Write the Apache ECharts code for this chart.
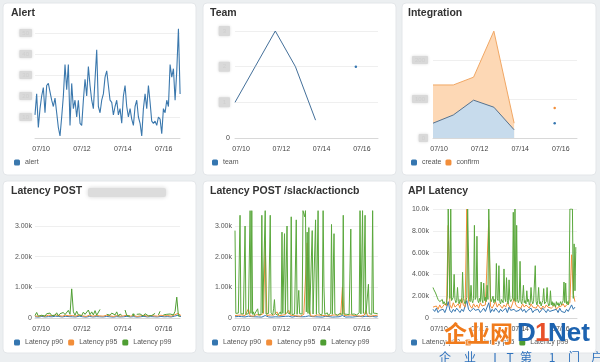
<!DOCTYPE html>
<html><head><meta charset="utf-8">
<script src="https://cdn.jsdelivr.net/npm/echarts@6/dist/echarts.min.js"></script>
<style>html,body{margin:0;padding:0;background:#eceff1}#c{width:600px;height:362px}</style>
</head><body><div id="c"></div>
<script>
// ---------- data ----------
const dayTicks = [10, 12, 14, 16];           // July days labelled on x axes
const rangeStart = 9.7, rangeEnd = 16.8;     // visible time range (July day)

const titles = ['Alert', 'Team', 'Integration', 'Latency POST', 'Latency POST /slack/actioncb', 'API Latency'];

// Alert (samples every ~1.96 h)
const alertValues = [11,21,5,14,20,24,12,25,26,22,18,15,19,12,5,1,10,20,35,23,35,6,26,14,18,10,18,7,6,18,
  28,20,34,25,18,14,28,42,15,12,18,21,29,32,25,18,17,11,15,18,11,14,7,20,25,15,10,14,9,6,
  15,18,10,7,1,14,21,14,25,17,8,7,8,6,10,9,2,14,12,18,15,35,29,33,18,32,52,21];

// Team / Integration (daily)
const teamValues = [1, 2, 3, 2, 0.5, null, 2];
const createValues = [38, 59, 97, 79, 21, null, 38];
const confirmValues = [98, 77, 59, 195, 17, null, 39];

// Latency POST (p99 every ~1.96 h, p90/p95 every 4 h)
const postP99 = [80,180,60,120,90,150,60,140,100,160,
  80,130,90,170,70,140,100,180,110,80,
  250,120,950,200,90,220,100,160,80,190,
  120,90,260,110,200,100,240,90,150,280,
  null,null,null,120,180,90,160,120,100,200,
  60,130,90,null,260,80,120,60,null,110,
  null,120,100,130,100,60,140,90,70,130,
  80,60,150,null,100,220,null,100,70,120,
  90,130,80,100,220,680,60,60];
const postP95 = [70,50,80,60,90,70,100,80,60,90,70,80,60,100,70,50,90,60,80,70,60,90,70,50,80,60,70,90,60,80,50,70,90,60,80,70,60,90,70,80,60,100,150,70];
const postP90 = [40,30,50,35,45,40,60,50,35,55,45,40,35,60,40,30,50,35,45,40,35,50,40,30,45,35,40,55,35,45,30,40,55,35,45,40,35,50,40,45,35,60,90,40];

// Latency POST /slack/actioncb (p99 hourly, p90/p95 every 2 h)
const slackP99 = [2850,150,120,90,160,110,3350,140,100,170,
  130,90,3000,120,160,100,140,90,3500,150,
  3500,120,200,90,160,110,130,300,100,150,
  90,120,3350,160,110,140,3500,130,100,120,
  150,90,3350,170,120,100,300,600,140,110,
  160,90,130,100,200,120,2800,150,110,2750,
  130,90,3000,160,120,100,140,3300,110,150,
  90,130,170,3200,120,100,900,140,110,160,
  130,3500,3500,3300,3500,200,2800,150,2950,120,
  100,160,2850,130,110,170,3200,120,90,3500,
  150,110,130,90,160,3500,1000,120,140,100,
  170,90,130,110,150,3050,120,100,2750,140,
  110,160,90,130,120,150,100,170,110,3350,
  130,90,160,120,100,140,110,150,2900,120,
  90,160,130,110,150,100,140,120,170,3500,
  130,110,3500,150,100,3350,120,160,90,1100,
  140,110,150,120,3500,160,100,130,150,120,
  140];
const slackP95 = [80,60,90,70,100,60,80,120,300,70,
  90,60,80,110,70,90,60,150,2500,80,
  70,100,60,90,80,200,70,60,90,80,
  110,70,250,90,60,80,100,70,90,60,
  80,120,90,2450,400,70,90,60,80,100,
  70,90,60,80,110,70,90,80,60,100,
  70,90,80,110,1000,80,60,90,70,100,
  60,80,90,70,110,60,80,90,250,70,
  90,60,100,80,70,90];
const slackP90 = [40,35,50,30,45,40,35,55,60,40,
  45,30,40,50,35,45,30,60,80,40,
  35,50,30,45,40,70,35,30,45,40,
  55,35,60,45,30,40,50,35,45,30,
  40,60,45,90,70,35,45,30,40,50,
  35,45,30,40,55,35,45,40,30,50,
  35,45,40,55,80,40,30,45,35,50,
  30,40,45,35,55,30,40,45,60,35,
  45,30,50,40,35,45];

// API Latency (p99 hourly, p90/p95 every 2 h)
const apiP99 = [2800,2600,2700,2300,2100,1900,1700,1800,1500,1600,
  1400,1700,1300,1500,1600,1200,1400,2000,10000,10000,
  1800,10000,1600,1500,1900,4000,1700,1400,1600,2800,
  1500,1300,1700,1600,1400,4200,1800,1500,1300,1600,
  1900,10000,10000,1700,1500,3000,1600,1400,1800,8500,
  1700,1900,7500,1600,1400,1800,1500,3300,1700,1400,
  3200,1600,1900,1500,3000,1700,10000,10000,1800,1500,
  1600,2000,1400,1700,1500,5000,1800,1600,4800,1500,
  1300,1700,1600,1400,4500,1800,1500,3700,1600,1300,
  3500,1700,1500,1400,1800,9700,1600,10000,1500,8500,
  1700,1400,1600,5200,1500,1300,1800,3000,1400,1600,
  1300,2500,1500,1700,1200,1400,2800,1600,1300,1500,
  1400,4800,1500,1200,1600,2800,1300,1500,1100,1400,
  1600,2700,1300,1200,1500,2800,1400,1100,1300,2500,
  1200,1500,1100,1400,1300,1000,1500,1200,1400,1100,
  1300,1500,1200,1400,1600,3300,1400,3200,1300,1500,
  1200,1700,10000,10000,10000,10000,1800,6800,2500,6500];
const apiP95 = [1000,900,1100,800,1200,900,1000,1300,1100,8500,
  1200,900,1400,1000,1100,1300,900,1800,1200,1000,
  10000,1500,1100,900,1300,1000,1200,900,1400,1100,
  1000,1200,1300,9000,1100,900,1200,1500,1000,1300,
  1100,900,1200,1000,1400,1100,900,1300,1800,1200,
  1000,1100,900,1300,1000,1200,1100,900,1300,1000,
  1100,900,1200,1000,800,1100,900,1200,1000,1100,
  900,1000,1200,800,1000,900,1100,1300,1000,1200,
  1100,1400,5800,2200,1500];
const apiP90 = [800,600,900,500,700,600,800,500,900,1500,
  700,500,800,600,900,700,500,800,600,700,
  1600,800,600,500,900,700,600,800,500,700,
  900,600,700,1400,500,800,600,900,700,500,
  800,600,700,900,500,1000,700,600,800,600,
  500,700,900,600,800,500,700,600,900,500,
  700,600,800,500,600,900,700,500,800,600,
  500,700,600,800,500,900,600,700,500,800,
  600,900,1200,800,1000];

// ---------- chart ----------
const F = '"Liberation Sans", Arial, sans-serif';
const CJK = '"Noto Sans CJK SC", sans-serif';
const C = { blue: '#3576b0', orange: '#f28e3a', green: '#4f9e33', line: '#3b78ad' };

function pts(vals, stepHours) {
  return vals.map((v, i) => {
    const x = rangeStart + i * stepHours / 24;
    const lone = v != null && (i === 0 || vals[i - 1] == null) && (i === vals.length - 1 || vals[i + 1] == null);
    return lone ? { value: [x, v], symbol: 'circle', symbolSize: 2.5 } : [x, v];
  });
}
// stacked total (create + confirm) so the confirm band sits on top of create
const confirmTotal = confirmValues.map((v, i) => (v == null || createValues[i] == null) ? null : v + createValues[i]);

const grids = [
  { left: 35, top: 33, width: 145, height: 105 },
  { left: 235, top: 31, width: 143, height: 107 },
  { left: 433, top: 60, width: 144, height: 78 },
  { left: 35, top: 226, width: 145, height: 92 },
  { left: 235, top: 226, width: 143, height: 92 },
  { left: 433, top: 209, width: 144, height: 109 }
];

const xAxes = grids.map((g, i) => ({
  type: 'value', gridIndex: i, min: rangeStart, max: rangeEnd,
  axisLine: { show: true, lineStyle: { color: '#d8d8d8', width: 1 } },
  axisTick: { show: false }, splitLine: { show: false },
  axisLabel: { customValues: dayTicks, fontSize: 7, color: '#444', margin: 8, fontFamily: F,
    formatter: v => '07/' + (v < 10 ? '0' : '') + Math.round(v) }
}));

const blur = { color: '#cfcfcf', backgroundColor: '#d9d9d9', padding: [1, 3], fontSize: 6,
  shadowBlur: 3, shadowColor: '#d9d9d9', borderRadius: 1, fontFamily: F };
const kFmt = v => v === 0 ? '0' : (v >= 10000 ? (v / 1000).toFixed(1) : (v / 1000).toFixed(2)) + 'k';
function yAxis(i, max, interval, label) {
  return { type: 'value', gridIndex: i, min: 0, max: max, interval: interval,
    axisLine: { show: false }, axisTick: { show: false },
    splitLine: { lineStyle: { color: '#efefef', width: 1 } },
    axisLabel: Object.assign({ fontSize: 7, color: '#555', fontFamily: F, margin: 3 }, label) };
}
const yAxes = [
  yAxis(0, 50, 10, { showMinLabel: false, margin: 3, formatter: v => '{b|' + v + '}', rich: { b: blur } }),
  yAxis(1, 3, 1, { margin: 5, formatter: v => v === 0 ? '{n|0}' : '{b|' + v + '}',
    rich: { n: { fontSize: 7, color: '#444', fontFamily: F }, b: Object.assign({}, blur, { padding: [2, 4] }) } }),
  yAxis(2, 200, 100, { margin: 5, formatter: v => '{b|' + v + '}', rich: { b: blur } }),
  yAxis(3, 3000, 1000, { formatter: kFmt }),
  yAxis(4, 3000, 1000, { formatter: kFmt }),
  yAxis(5, 10000, 2000, { margin: 4, formatter: kFmt })
];

function line(name, gi, data, color, extra) {
  return Object.assign({ name: name, type: 'line', xAxisIndex: gi, yAxisIndex: gi, data: data,
    symbol: 'none', showSymbol: true, connectNulls: false, clip: false,
    lineStyle: { width: 1, color: color }, itemStyle: { color: color }, emphasis: { disabled: true } }, extra || {});
}

const series = [
  line('alert', 0, pts(alertValues, 1.96), C.line, { lineStyle: { width: 1.1, color: C.line } }),
  line('team', 1, pts(teamValues, 24), '#44709a', { itemStyle: { color: '#3576b0' } }),
  line('confirm', 2, pts(confirmTotal, 24), '#f1a764', { itemStyle: { color: '#f28e3a' },
    areaStyle: { color: '#fdd8b5', opacity: 1 } }),
  line('create', 2, pts(createValues, 24), '#56728e', { itemStyle: { color: '#3576b0' },
    areaStyle: { color: '#c7dbec', opacity: 1 } }),
  line('Latency p90', 3, pts(postP90, 4), C.blue, { clip: true }),
  line('Latency p95', 3, pts(postP95, 4), C.orange, { clip: true }),
  line('Latency p99', 3, pts(postP99, 1.96), C.green, { clip: true }),
  line('Latency p90', 4, pts(slackP90, 2), C.blue),
  line('Latency p95', 4, pts(slackP95, 2), C.orange),
  line('Latency p99', 4, pts(slackP99, 1), '#5aa83c', { itemStyle: { color: C.green } }),
  line('Latency p90', 5, pts(apiP90, 2), C.blue, { clip: true }),
  line('Latency p95', 5, pts(apiP95, 2), C.orange, { clip: true }),
  line('Latency p99', 5, pts(apiP99, 1), '#5aa83c', { clip: true, itemStyle: { color: C.green } })
];

const titlePos = [[11, 8], [210, 8], [408, 8], [11, 186], [210, 186], [408, 186]];
const title = titles.map((t, i) => ({ text: t, left: titlePos[i][0], top: titlePos[i][1], padding: 0,
  textStyle: { fontSize: 10.5, fontWeight: 'bold', color: '#333', fontFamily: F } }));

const legBase = { icon: 'roundRect', itemWidth: 6, itemHeight: 6, padding: 0, itemGap: 5,
  textStyle: { fontSize: 7, color: '#555', fontFamily: F }, selectedMode: false };
const lat = ['Latency p90', 'Latency p95', 'Latency p99'];
const legend = [
  Object.assign({}, legBase, { data: ['alert'], left: 14, top: 159 }),
  Object.assign({}, legBase, { data: ['team'], left: 212, top: 159 }),
  Object.assign({}, legBase, { data: ['create', 'confirm'], left: 411, top: 159, itemGap: 4 }),
  Object.assign({}, legBase, { data: lat, left: 14, top: 339 }),
  Object.assign({}, legBase, { data: lat, left: 212, top: 339 }),
  Object.assign({}, legBase, { data: lat, left: 411, top: 339 })
];

const panels = [[3, 3, 193, 172], [203, 3, 193, 172], [402, 3, 194, 172],
                [3, 181, 193, 172], [203, 181, 193, 172], [402, 181, 194, 172]];
const graphic = panels.map(p => ({ type: 'rect', z: -10, silent: true,
  shape: { x: p[0], y: p[1], width: p[2], height: p[3], r: 4 },
  style: { fill: '#ffffff', stroke: '#e3e6e9', lineWidth: 1 } }));
// blurred part of the "Latency POST" title
graphic.push({ type: 'rect', z: 5, silent: true, shape: { x: 88, y: 188, width: 78, height: 9, r: 2 },
  style: { fill: '#dcdcdc', shadowBlur: 4, shadowColor: '#d4d4d4' } });
// watermark
graphic.push({ type: 'text', z: 100, silent: true, style: { text: '企业网', x: 444, y: 333, font: 'bold 23px ' + CJK,
  fill: '#f07b1c', stroke: '#ffffff', lineWidth: 1, align: 'left', verticalAlign: 'middle' } });
graphic.push({ type: 'text', z: 100, silent: true, style: { text: 'D', x: 517, y: 334, font: 'bold 26px ' + F,
  fill: '#1d63b0', align: 'left', verticalAlign: 'middle' } });
graphic.push({ type: 'text', z: 100, silent: true, style: { text: '1', x: 535, y: 334, font: 'bold 26px ' + F,
  fill: '#e8502a', align: 'left', verticalAlign: 'middle' } });
graphic.push({ type: 'text', z: 100, silent: true, style: { text: 'Net', x: 548, y: 334, font: 'bold 26px ' + F,
  fill: '#1d63b0', align: 'left', verticalAlign: 'middle' } });
const wmChars = ['企', '业', 'I', 'T', '第', '1', '门', '户'];
const wmX = [445, 470, 495, 510, 526, 552, 574, 597];
wmChars.forEach((ch, i) => graphic.push({ type: 'text', z: 100, silent: true,
  style: { text: ch, x: wmX[i], y: 357, font: '12px ' + CJK, fill: '#2f72bd', align: 'center', verticalAlign: 'middle' } }));

const chart = echarts.init(document.getElementById('c'), null, { renderer: 'canvas' });
chart.setOption({
  animation: false, backgroundColor: '#eceff1',
  title: title, legend: legend, grid: grids, xAxis: xAxes, yAxis: yAxes, series: series, graphic: graphic
});
</script></body></html>
